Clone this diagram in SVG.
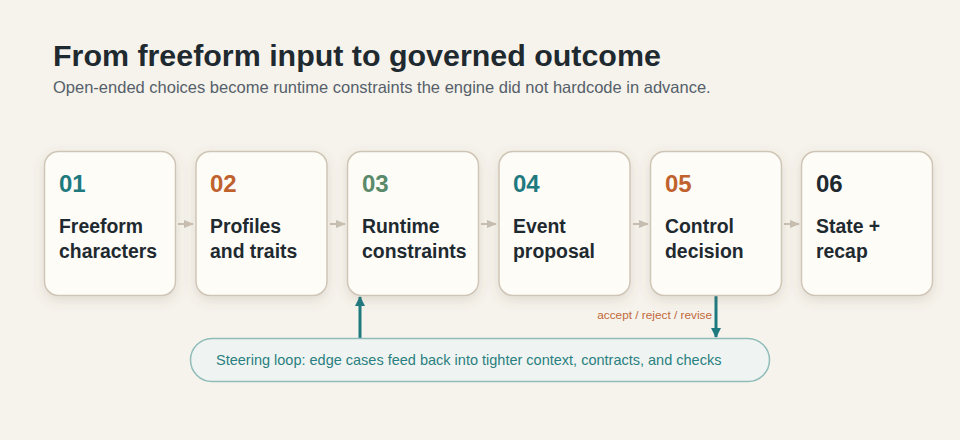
<svg xmlns="http://www.w3.org/2000/svg" width="960" height="440" viewBox="0 0 960 440">
<defs>
<filter id="sh" x="-20%" y="-20%" width="140%" height="150%">
<feDropShadow dx="0" dy="4" stdDeviation="6" flood-color="#6b5a40" flood-opacity="0.16"/>
</filter>
<marker id="ag" viewBox="0 0 10 10" refX="9" refY="5" markerWidth="10" markerHeight="10" markerUnits="userSpaceOnUse" orient="auto">
<path d="M0,1 L10,5 L0,9 Z" fill="#c9c0b3"/>
</marker>
<marker id="at" viewBox="0 0 10 10" refX="9" refY="5" markerWidth="10" markerHeight="10" markerUnits="userSpaceOnUse" orient="auto">
<path d="M0,0 L10,5 L0,10 Z" fill="#1f7a80"/>
</marker>
</defs>
<style>
.box{fill:#fdfcf7;stroke:#cfc5b6;stroke-width:1.5}
.num{font-family:"Liberation Sans",Arial,sans-serif;font-weight:bold;font-size:24px}
.lbl{font-family:"Liberation Sans",Arial,sans-serif;font-weight:bold;font-size:19.4px;fill:#1f2a30}
.flow{stroke:#c9c0b3;stroke-width:2;fill:none}
.loop{stroke:#1f7a80;stroke-width:3;fill:none}
</style>
<rect width="960" height="440" fill="#f6f3ec"/>
<text x="53" y="66" font-family="'Liberation Sans',Arial,sans-serif" font-weight="bold" font-size="30.4" fill="#1f2a30">From freeform input to governed outcome</text>
<text x="53" y="93" font-family="'Liberation Sans',Arial,sans-serif" font-size="16.5" fill="#55606a">Open-ended choices become runtime constraints the engine did not hardcode in advance.</text>

<g id="connectors">
<line class="flow" x1="178" y1="224" x2="193" y2="224" marker-end="url(#ag)"/>
<line class="flow" x1="330" y1="224" x2="345" y2="224" marker-end="url(#ag)"/>
<line class="flow" x1="481" y1="224" x2="496" y2="224" marker-end="url(#ag)"/>
<line class="flow" x1="633" y1="224" x2="648" y2="224" marker-end="url(#ag)"/>
<line class="flow" x1="784" y1="224" x2="799" y2="224" marker-end="url(#ag)"/>
<line class="loop" x1="360" y1="338" x2="360" y2="297" marker-end="url(#at)"/>
<line class="loop" x1="716" y1="296" x2="716" y2="337" marker-end="url(#at)"/>
<text x="712" y="319" text-anchor="end" font-family="'Liberation Sans',Arial,sans-serif" font-size="11.8" fill="#c0683a">accept / reject / revise</text>
</g>

<g id="n1">
<rect class="box" x="44.5" y="151.5" width="131" height="144" rx="14" filter="url(#sh)"/>
<text class="num" x="59" y="192" fill="#1f7a80">01</text>
<text class="lbl" x="59" y="233">Freeform</text>
<text class="lbl" x="59" y="258">characters</text>
</g>
<g id="n2">
<rect class="box" x="196" y="151.5" width="131" height="144" rx="14" filter="url(#sh)"/>
<text class="num" x="210" y="192" fill="#c0622e">02</text>
<text class="lbl" x="210" y="233">Profiles</text>
<text class="lbl" x="210" y="258">and traits</text>
</g>
<g id="n3">
<rect class="box" x="347.5" y="151.5" width="131" height="144" rx="14" filter="url(#sh)"/>
<text class="num" x="362" y="192" fill="#5a8a6a">03</text>
<text class="lbl" x="362" y="233">Runtime</text>
<text class="lbl" x="362" y="258">constraints</text>
</g>
<g id="n4">
<rect class="box" x="499" y="151.5" width="131" height="144" rx="14" filter="url(#sh)"/>
<text class="num" x="513" y="192" fill="#1f7a80">04</text>
<text class="lbl" x="513" y="233">Event</text>
<text class="lbl" x="513" y="258">proposal</text>
</g>
<g id="n5">
<rect class="box" x="650.5" y="151.5" width="131" height="144" rx="14" filter="url(#sh)"/>
<text class="num" x="665" y="192" fill="#c0622e">05</text>
<text class="lbl" x="665" y="233">Control</text>
<text class="lbl" x="665" y="258">decision</text>
</g>
<g id="n6">
<rect class="box" x="801.5" y="151.5" width="131" height="144" rx="14" filter="url(#sh)"/>
<text class="num" x="816" y="192" fill="#1f2a30">06</text>
<text class="lbl" x="816" y="233">State +</text>
<text class="lbl" x="816" y="258">recap</text>
</g>

<g id="loop">
<rect x="190.5" y="338.5" width="579" height="43" rx="21.5" fill="#eff4f2" stroke="#8fbcb9" stroke-width="1.5"/>
<text x="216" y="365" font-family="'Liberation Sans',Arial,sans-serif" font-size="14.5" fill="#2a7f80">Steering loop: edge cases feed back into tighter context, contracts, and checks</text>
</g>
</svg>
